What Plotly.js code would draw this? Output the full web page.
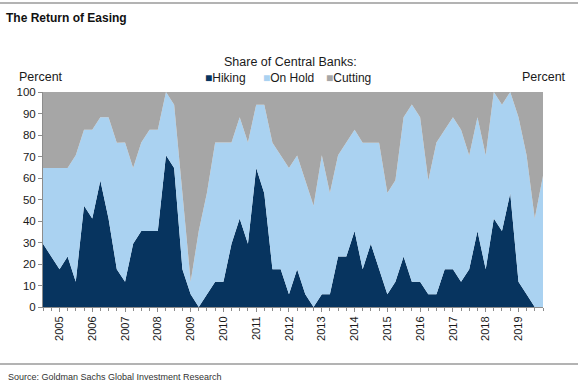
<!DOCTYPE html>
<html>
<head>
<meta charset="utf-8">
<script src="https://cdn.plot.ly/plotly-3.0.1.min.js"></script>
<style>
  html, body { margin: 0; padding: 0; background: #ffffff; }
  #chart { width: 580px; height: 385px; }
</style>
</head>
<body>
<div id="chart"></div>
<script>
// ---- Data (quarterly, share of 17 central banks, percent) ----
var startQuarter = '2004-07-01';   // first observation
var seriesNames = ['Hiking', 'On Hold', 'Cutting'];

var hiking = [
  29.4, 23.5, 17.6, 23.5, 11.8, 47.1, 41.2, 58.8, 41.2, 17.6,
  11.8, 29.4, 35.3, 35.3, 35.3, 70.6, 64.7, 17.6, 5.9, 0,
  5.9, 11.8, 11.8, 29.4, 41.2, 29.4, 64.7, 52.9, 17.6, 17.6,
  5.9, 17.6, 5.9, 0, 5.9, 5.9, 23.5, 23.5, 35.3, 17.6,
  29.4, 17.6, 5.9, 11.8, 23.5, 11.8, 11.8, 5.9, 5.9, 17.6,
  17.6, 11.8, 17.6, 35.3, 17.6, 41.2, 35.3, 52.9, 11.8, 5.9,
  0, 0
];
var onHold = [
  35.3, 41.2, 47.1, 41.2, 58.8, 35.3, 41.2, 29.4, 47.1, 58.8,
  64.7, 35.3, 41.2, 47.1, 47.1, 29.4, 29.4, 35.3, 5.9, 35.3,
  47.1, 64.7, 64.7, 47.1, 47.1, 47.1, 29.4, 41.2, 58.8, 52.9,
  58.8, 52.9, 52.9, 47.1, 64.7, 47.1, 47.1, 52.9, 47.1, 58.8,
  47.1, 58.8, 47.1, 47.1, 64.7, 82.4, 76.5, 52.9, 70.6, 64.7,
  70.6, 70.6, 52.9, 52.9, 52.9, 58.8, 58.8, 47.1, 76.5, 64.7,
  41.2, 61.0
];
var cutting = [
  35.3, 35.3, 35.3, 35.3, 29.4, 17.6, 17.6, 11.8, 11.8, 23.5,
  23.5, 35.3, 23.5, 17.6, 17.6, 0, 5.9, 47.1, 88.2, 64.7,
  47.1, 23.5, 23.5, 23.5, 11.8, 23.5, 5.9, 5.9, 23.5, 29.4,
  35.3, 29.4, 41.2, 52.9, 29.4, 47.1, 29.4, 23.5, 17.6, 23.5,
  23.5, 23.5, 47.1, 41.2, 11.8, 5.9, 11.8, 41.2, 23.5, 17.6,
  11.8, 17.6, 29.4, 11.8, 29.4, 0, 5.9, 0, 11.8, 29.4,
  58.8, 39.0
];
var yearLabels = ['2005','2006','2007','2008','2009','2010','2011','2012',
                  '2013','2014','2015','2016','2017','2018','2019'];
var yTicks = [0,10,20,30,40,50,60,70,80,90,100];

// ---- quarterly date axis positions ----
function quarterDates(start, n) {
  var parts = start.split('-');
  var y = +parts[0], m = +parts[1];
  var out = [];
  for (var i = 0; i < n; i++) {
    var mm = m + 3 * i;
    var yy = y + Math.floor((mm - 1) / 12);
    var mo = ((mm - 1) % 12) + 1;
    out.push(yy + '-' + (mo < 10 ? '0' : '') + mo + '-01');
  }
  return out;
}
var xDates = quarterDates(startQuarter, hiking.length);
var yearTickVals = yearLabels.map(function (y) { return y + '-01-01'; });

// ---- geometry helpers (pixel -> paper) ----
var W = 580, H = 385;
var M = { l: 43, r: 37, t: 92, b: 78 };
var PW = W - M.l - M.r, PH = H - M.t - M.b;
function px(x) { return (x - M.l) / PW; }
function py(y) { return (H - M.b - y) / PH; }

var colors = ['#07345f', '#aad2f1', '#a6a6a6'];
var values = [hiking, onHold, cutting];

var traces = seriesNames.map(function (name, i) {
  return {
    type: 'scatter',
    mode: 'lines',
    name: name,
    x: xDates,
    y: values[i],
    stackgroup: 'one',
    line: { width: 0, color: colors[i] },
    fillcolor: colors[i],
    hoverinfo: 'skip',
    showlegend: false
  };
});

var baseFont = 'Liberation Sans, Arial, sans-serif';

// legend drawn as text keys (small squares + names)
var legendCenters = [225, 288, 348];
var legendAnnotations = seriesNames.map(function (name, i) {
  return {
    text: '<span style="color:' + colors[i] + '">■</span>' + name,
    xref: 'paper', yref: 'paper',
    x: px(legendCenters[i]), y: py(78), xanchor: 'center', yanchor: 'middle',
    showarrow: false,
    font: { family: baseFont, size: 12, color: '#1a1a1a' }
  };
});

var layout = {
  width: W, height: H,
  margin: M,
  paper_bgcolor: '#ffffff',
  plot_bgcolor: '#ffffff',
  font: { family: baseFont, size: 12, color: '#1a1a1a' },
  title: {
    text: '<b>The Return of Easing</b>',
    x: 6 / W, xref: 'container', xanchor: 'left',
    y: 1 - 18 / H, yref: 'container', yanchor: 'middle',
    font: { family: baseFont, size: 12, color: '#111111' }
  },
  showlegend: false,
  xaxis: {
    type: 'date',
    range: [xDates[0], xDates[xDates.length - 1]],
    tickmode: 'array',
    tickvals: yearTickVals,
    ticktext: yearLabels,
    tickangle: -90,
    ticks: 'outside', ticklen: 4, tickcolor: '#8c8c8c', tickwidth: 1,
    minor: { dtick: 'M3', tick0: startQuarter, ticks: 'outside', ticklen: 3, tickcolor: '#8c8c8c', showgrid: false },
    showline: true, linecolor: '#8c8c8c', linewidth: 1,
    showgrid: false, zeroline: false,
    tickfont: { family: baseFont, size: 11, color: '#1a1a1a' },
    fixedrange: true
  },
  yaxis: {
    range: [0, 100],
    tickmode: 'array', tickvals: yTicks,
    ticks: 'outside', ticklen: 4, tickcolor: '#8c8c8c',
    showline: true, linecolor: '#8c8c8c', linewidth: 1,
    showgrid: false, zeroline: false,
    tickfont: { family: baseFont, size: 11.5, color: '#1a1a1a' },
    fixedrange: true
  },
  yaxis2: {
    overlaying: 'y', side: 'right',
    range: [0, 100],
    tickmode: 'array', tickvals: yTicks,
    ticks: 'outside', ticklen: 4, tickcolor: '#8c8c8c',
    showline: true, linecolor: '#8c8c8c', linewidth: 1,
    showgrid: false, zeroline: false,
    tickfont: { family: baseFont, size: 11.5, color: '#1a1a1a' },
    fixedrange: true
  },
  shapes: [
    { type: 'line', xref: 'paper', yref: 'paper',
      x0: px(0), x1: px(578), y0: py(3), y1: py(3),
      line: { color: '#9a9a9a', width: 1.5 } },
    { type: 'line', xref: 'paper', yref: 'paper',
      x0: px(0), x1: px(578), y0: py(364), y1: py(364),
      line: { color: '#9a9a9a', width: 1.5 } }
  ],
  annotations: [
    { text: 'Share of Central Banks:', xref: 'paper', yref: 'paper',
      x: px(290), y: py(62), xanchor: 'center', yanchor: 'middle',
      showarrow: false, font: { family: baseFont, size: 12.5, color: '#1a1a1a' } },
    { text: 'Percent', xref: 'paper', yref: 'paper',
      x: px(41), y: py(77), xanchor: 'center', yanchor: 'middle',
      showarrow: false, font: { family: baseFont, size: 12.5, color: '#1a1a1a' } },
    { text: 'Percent', xref: 'paper', yref: 'paper',
      x: px(544), y: py(77), xanchor: 'center', yanchor: 'middle',
      showarrow: false, font: { family: baseFont, size: 12.5, color: '#1a1a1a' } },
    { text: 'Source: Goldman Sachs Global Investment Research', xref: 'paper', yref: 'paper',
      x: px(6), y: py(377), xanchor: 'left', yanchor: 'middle',
      showarrow: false, font: { family: baseFont, size: 9, color: '#333333' } }
  ].concat(legendAnnotations)
};

Plotly.newPlot('chart', traces, layout, { displayModeBar: false, staticPlot: true });
</script>
</body>
</html>
